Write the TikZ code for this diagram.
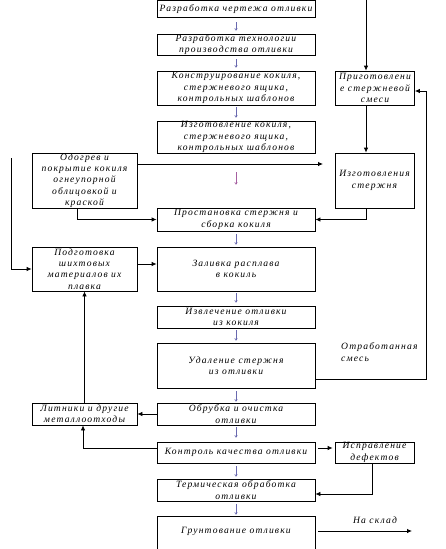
\documentclass[tikz,border=0pt]{standalone}
\usepackage{fontspec}
\setmainfont{Liberation Serif}[LetterSpace=12]
\usetikzlibrary{arrows.meta,calc}
\definecolor{slate}{RGB}{105,105,175}
\definecolor{plum}{RGB}{165,95,160}
\begin{document}
\begin{tikzpicture}[x=1pt,y=-1pt,
  every node/.style={font=\fontsize{9.6}{11.3}\selectfont\itshape, align=center, inner sep=0pt},
  box/.style={draw, line width=0.8pt, minimum width=158pt},
  sbox/.style={draw, line width=0.8pt, minimum width=105pt},
  rbox/.style={draw, line width=0.8pt, minimum width=79pt},
  arr/.style={line width=0.8pt, -{Latex[length=5pt,width=4.5pt]}},
  sarr/.style={line width=0.6pt, slate, -{To[length=2.5pt,width=3pt]}}]
\useasboundingbox (0,0) rectangle (446,549);
% main column
\node[box, minimum height=16.5pt] (b1) at (236,8.75) {Разработка чертежа отливки};
\node[box, minimum height=21pt] (b2) at (236,44.5) {Разработка технологии\\производства отливки};
\node[box, minimum height=34pt] (b3) at (236,88) {Конструирование кокиля,\\стержневого ящика,\\контрольных шаблонов};
\node[box, minimum height=32pt] (b4) at (236,137) {Изготовление кокиля,\\стержневого ящика,\\контрольных шаблонов};
\node[box, minimum height=23pt] (pro) at (236,219.5) {Простановка стержня и\\сборка кокиля};
\node[box, minimum height=44pt] (zal) at (236,269) {Заливка расплава\\в кокиль};
\node[box, minimum height=22pt] (izv) at (236,317) {Извлечение отливки\\из кокиля};
\node[box, minimum height=45pt] (ud) at (236,365.5) {Удаление стержня\\из отливки};
\node[box, minimum height=22pt] (obr) at (236,414) {Обрубка и очистка\\отливки};
\node[box, minimum height=21pt] (kon) at (236,452.5) {Контроль качества отливки};
\node[box, minimum height=22pt] (ter) at (236,490) {Термическая обработка\\отливки};
\node[box, minimum height=46pt] (gr) at (236,539) {};
\node (grt) at (236,531) {Грунтование отливки};
% left column
\node[sbox, minimum height=55pt] (od) at (84.5,180.5) {Одогрев и\\покрытие кокиля\\огнеупорной\\облицовкой и\\краской};
\node[sbox, minimum height=44pt] (pod) at (84.5,269) {Подготовка\\шихтовых\\материалов их\\плавка};
\node[sbox, minimum height=22pt] (lit) at (84.5,414) {Литники и другие\\металлоотходы};
% right column
\node[rbox, minimum height=34pt] (pr) at (375,88) {Приготовлени\\е стержневой\\смеси};
\node[rbox, minimum height=55pt] (iz) at (374.5,180.5) {Изготовления\\стержня};
\node[rbox, minimum height=21pt] (isp) at (374.5,452.5) {Исправление\\дефектов};
% labels
\node[anchor=west, align=left] (otr) at (341,352) {Отработанная\\смесь};
\node (skl) at (375,520) {На склад};
% coordinates
\coordinate (top) at (366,0);
\coordinate (lstart) at (11,158);
\coordinate (rline) at (426,379);
\coordinate (odend) at (323,164);
\coordinate (sklad) at (412,531);
% small main arrows
\draw[sarr, shorten <=5pt, shorten >=3pt] (b1) -- (b2);
\draw[sarr, shorten <=4pt, shorten >=3pt] (b2) -- (b3);
\draw[sarr, shorten <=2pt, shorten >=3pt] (b3) -- (b4);
\draw[sarr, plum, shorten <=19pt, shorten >=23pt] (b4) -- (pro);
\draw[sarr, shorten <=3pt, shorten >=2pt] (pro) -- (zal);
\draw[sarr, shorten <=2pt, shorten >=3pt] (zal) -- (izv);
\draw[sarr, shorten <=2pt, shorten >=2pt] (izv) -- (ud);
\draw[sarr, shorten <=3pt, shorten >=1pt] (ud) -- (obr);
\draw[sarr, shorten <=2pt, shorten >=4pt] (obr) -- (kon);
\draw[sarr, shorten <=3pt, shorten >=2pt] (kon) -- (ter);
\draw[sarr, shorten <=3pt, shorten >=1pt] (ter) -- (gr);
% black arrows
\draw[arr] (top) -- (top |- pr.north);
\draw[arr] ([xshift=-9pt]pr.south) -- ([xshift=-8.5pt]iz.north);
\draw[arr] (od.east |- odend) -- (odend);
\draw[arr] ([xshift=-7.5pt]od.south) |- (pro.west);
\draw[arr] ([xshift=-8.5pt]iz.south) |- (pro.east);
\draw[arr] (lstart) |- (pod.west);
\draw[arr] ([yshift=5pt]pod.east) -- ([yshift=5pt]zal.west);
\draw[arr] ([yshift=-13.5pt]ud.east) -- (rline) |- ([yshift=-3pt]pr.east);
\draw[arr] (obr.west) -- (lit.east);
\draw[arr] (lit.north) -- (pod.south);
\draw[arr] ([yshift=4.5pt]kon.west) -| ([xshift=-1.5pt]lit.south);
\draw[arr, shorten <=3pt, shorten >=2pt] ([yshift=4.5pt]kon.east) -- ([yshift=4.5pt]isp.west);
\draw[arr] ([xshift=-2.5pt]isp.south) |- ([yshift=-4pt]ter.east);
\draw[arr, shorten <=3pt] (gr.east |- sklad) -- (sklad);
\end{tikzpicture}
\end{document}
